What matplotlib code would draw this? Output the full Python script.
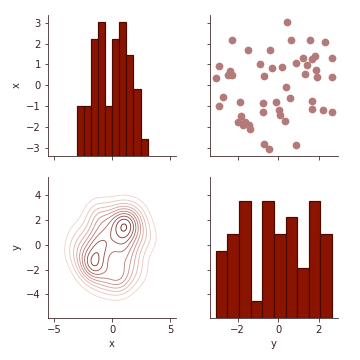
import matplotlib
matplotlib.use("Agg")
import matplotlib.pyplot as plt
import numpy as np
import pandas as pd
import seaborn as sns
from matplotlib.colors import LinearSegmentedColormap

x_vals = [3.05, 2.18, 2.18, 2.18, 2.09, 1.70, 1.70, 0.93, 0.67, 0.48,
          0.50, 0.35, 1.00, 0.45, 0.83, 0.88, 1.08, 1.32, 0.98, 1.27,
          1.40, 1.32, 0.56, 0.71, 0.40, 0.40, -0.08, -0.60, -0.56, -1.00,
          -0.80, -0.85, -1.27, -0.80, -1.17, -1.43, -1.72, -0.75, -1.14, -1.20,
          -1.28, -1.48, -1.75, -1.89, -1.75, -1.89, -2.09, -2.83, -3.07, -2.87]
y_vals = [0.45, -2.29, 0.63, 1.59, 2.32, -1.49, -0.41, -2.94, -2.37, -2.49,
          -2.29, -3.09, -0.90, -0.70, -0.30, 0.20, 0.90, 1.24, 1.44, 1.69,
          1.79, 2.64, 1.34, 1.84, 1.89, 2.64, 0.40, 0.60, -2.74, -2.94,
          -1.90, -0.75, -0.75, -0.10, 0.05, 0.10, 0.35, 1.69, 1.69, 2.21,
          2.66, -1.84, -1.97, -1.74, -1.64, -1.43, -1.39, -0.68, -0.45, 0.90]

df = pd.DataFrame({"x": x_vals, "y": y_vals})

txt = "#3a2222"
plt.rcParams.update({
    "text.color": txt, "axes.labelcolor": txt, "xtick.color": txt,
    "ytick.color": txt, "axes.edgecolor": txt, "font.size": 10,
})

bar_color = "#8a1400"
edge_color = "#4a0a00"
pt_color = "#b47a7a"
cmap = LinearSegmentedColormap.from_list("rd", ["#f7e2dc", "#dcaaa2", "#a85e56", "#3d0a05"])

GRID = {}


def kde_contour(x, y, **kws):
    x = np.asarray(x, float)
    y = np.asarray(y, float)
    n = len(x)
    hx = 1.06 * x.std() * n ** (-1 / 6)
    hy = 1.06 * y.std() * n ** (-1 / 6)
    gx = np.linspace(x.min() - 3 * hx, x.max() + 3 * hx, 100)
    gy = np.linspace(y.min() - 3 * hy, y.max() + 3 * hy, 100)
    xx, yy = np.meshgrid(gx, gy)
    z = np.zeros_like(xx)
    for xi, yi in zip(x, y):
        z += np.exp(-0.5 * (((xx - xi) / hx) ** 2 + ((yy - yi) / hy) ** 2))
    z /= (n * 2 * np.pi * hx * hy)
    ax = plt.gca()
    ax.contour(xx, yy, z, 10, cmap=cmap, linewidths=0.85)
    GRID["x"] = (gx[0], gx[-1])
    GRID["y"] = (gy[0], gy[-1])


g = sns.PairGrid(df, height=2.5)
g.map_diag(plt.hist, bins=10, color=bar_color, edgecolor=edge_color, linewidth=1.2)
g.map_upper(plt.scatter, s=60, color=pt_color, linewidth=0)
g.map_lower(kde_contour)

for ax in g.axes.flat:
    ax.tick_params(colors=txt)
g.axes[1, 0].set_xlim(*GRID["x"])
g.axes[1, 0].set_ylim(*GRID["y"])
g.axes[1, 0].set_xticks([-5, 0, 5])
g.axes[1, 0].set_yticks([-4, -2, 0, 2, 4])
g.axes[1, 1].set_xlim(min(y_vals) - 0.29, max(y_vals) + 0.29)
g.axes[1, 1].set_xticks([-2, 0, 2])
g.axes[0, 0].set_ylim(min(x_vals) - 0.31, max(x_vals) + 0.31)

g.figure.set_size_inches(5, 5)
g.figure.subplots_adjust(left=0.133, right=0.939, top=0.958, bottom=0.117,
                         wspace=0.26, hspace=0.15)
g.figure.savefig("out.png", dpi=72)
